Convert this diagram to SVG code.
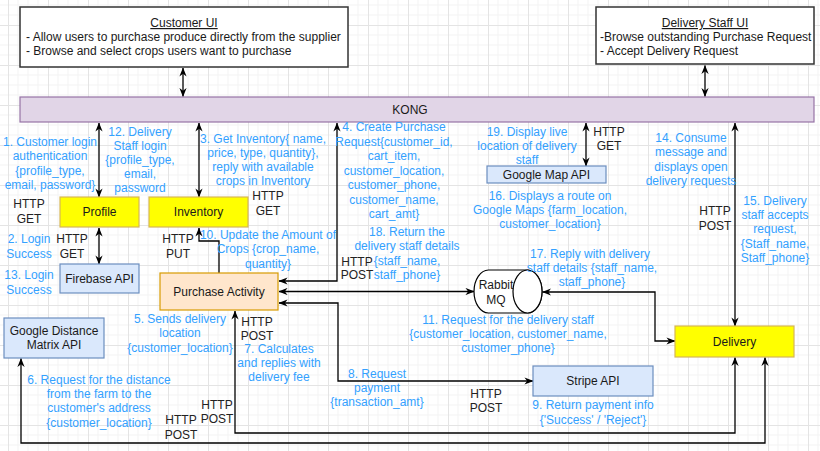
<svg xmlns="http://www.w3.org/2000/svg" width="820" height="451" viewBox="0 0 820 451">
<defs>
<pattern id="grid" width="40" height="40" patternUnits="userSpaceOnUse" x="8" y="25">
<path d="M0,10H40M0,20H40M0,30H40M10,0V40M20,0V40M30,0V40" fill="none" stroke="#f3f3f3" stroke-width="1"/>
<path d="M0,0.5H40M0.5,0V40" fill="none" stroke="#e4e4e4" stroke-width="1"/>
</pattern>
<marker id="ar" viewBox="0 0 10 8" refX="9.5" refY="4" markerWidth="9" markerHeight="7.2" markerUnits="userSpaceOnUse" orient="auto-start-reverse">
<path d="M0,0 L10,4 L0,8 L3,4 Z" fill="#000"/>
</marker>
<style>
text{font-family:"Liberation Sans",Arial,sans-serif;font-size:12px;}
.lb{fill:#33A1FF;text-anchor:middle;}
.hp{fill:#222;text-anchor:middle;}
.bt{fill:#1a1a1a;text-anchor:middle;}
.tl{fill:#1a1a1a;}
.c{fill:none;stroke:#000;stroke-width:1.3;}
.d{marker-start:url(#ar);marker-end:url(#ar);}
.s{marker-end:url(#ar);}
.ui{fill:#fff;stroke:#333;stroke-width:1.5;}
.yl{fill:#ffff00;stroke:#d6b656;stroke-width:1.2;}
.bl{fill:#dae8fc;stroke:#6c8ebf;stroke-width:1.2;}
</style>
</defs>
<rect width="820" height="451" fill="#fff"/>
<rect width="820" height="451" fill="url(#grid)"/>

<g id="connectors">
<path class="c d" d="M183,68 V96.5"/>
<path class="c d" d="M705,65.5 V96.5"/>
<path class="c d" d="M99,123 V197"/>
<path class="c d" d="M199,123 V197"/>
<path class="c d" d="M99,228 V264"/>
<path class="c d" d="M586,123 V166"/>
<path class="c d" d="M735,123 V326"/>
<path class="c s" d="M219,273 V241 H199 V228"/>
<path class="c d" d="M279,281 H337 V123"/>
<path class="c d" d="M279,291.5 H474"/>
<path class="c d" d="M279,303 H338 V381 H533"/>
<path class="c d" d="M542.5,292 H655 V341 H675"/>
<path class="c d" d="M235,311 V433 H735 V357.5"/>
<path class="c d" d="M21,358.5 V443 H765 V357.5"/>
</g>

<g id="customer-ui">
<rect class="ui" x="20" y="7" width="328" height="60"/>
<text class="bt" x="184" y="27" text-decoration="underline">Customer UI</text>
<text class="tl" x="26" y="40.5">- Allow users to purchase produce directly from the supplier</text>
<text class="tl" x="26" y="55">- Browse and select crops users want to purchase</text>
</g>

<g id="delivery-staff-ui">
<rect class="ui" x="596" y="7" width="218" height="57"/>
<text class="bt" x="705" y="27" text-decoration="underline">Delivery Staff UI</text>
<text class="tl" x="600" y="40.5">-Browse outstanding Purchase Request</text>
<text class="tl" x="600" y="55">- Accept Delivery Request</text>
</g>

<g id="kong">
<rect x="20" y="97" width="794" height="25" fill="#e1d5e7" stroke="#9673a6" stroke-width="1.2"/>
<text class="bt" x="410" y="114">KONG</text>
</g>

<g id="profile">
<rect class="yl" x="60" y="197" width="79" height="30"/>
<text class="bt" x="99.5" y="216">Profile</text>
</g>

<g id="inventory">
<rect class="yl" x="149" y="197" width="99" height="30"/>
<text class="bt" x="198.5" y="216">Inventory</text>
</g>

<g id="firebase-api">
<rect class="bl" x="60" y="264" width="79" height="29"/>
<text class="bt" x="99.5" y="282.5">Firebase API</text>
</g>

<g id="google-map-api">
<rect class="bl" x="487" y="166" width="119" height="17"/>
<text class="bt" x="546.5" y="179">Google Map API</text>
</g>

<g id="purchase-activity">
<rect x="160" y="273" width="118" height="37" fill="#ffe6cc" stroke="#d79b00" stroke-width="1.2"/>
<text class="bt" x="219" y="295.5">Purchase Activity</text>
</g>

<g id="rabbitmq">
<path d="M488.5,270 H527.5 A14.5,21.5 0 0 1 527.5,313 H488.5 A14.5,21.5 0 0 1 488.5,270 Z" fill="#fff" stroke="#000" stroke-width="1.2"/>
<ellipse cx="527.5" cy="291.5" rx="14.5" ry="21.5" fill="#fff" stroke="#000" stroke-width="1.2"/>
<text class="bt" x="496" y="289">Rabbit</text>
<text class="bt" x="496" y="304">MQ</text>
</g>

<g id="google-distance-matrix-api">
<rect class="bl" x="4" y="318" width="100" height="40"/>
<text class="bt" x="54" y="335">Google Distance</text>
<text class="bt" x="54" y="349">Matrix API</text>
</g>

<g id="stripe-api">
<rect class="bl" x="533" y="366" width="120" height="30"/>
<text class="bt" x="593" y="385">Stripe API</text>
</g>

<g id="delivery">
<rect class="yl" x="675" y="326" width="119" height="31"/>
<text class="bt" x="734.5" y="345.5">Delivery</text>
</g>

<g id="labels">
<text class="lb" x="50" y="146">1. Customer login</text>
<text class="lb" x="50" y="160">authentication</text>
<text class="lb" x="50" y="174.5">{profile_type,</text>
<text class="lb" x="50" y="188.5">email, password}</text>
<text class="hp" x="29" y="208">HTTP</text>
<text class="hp" x="29" y="222.5">GET</text>

<text class="lb" x="140" y="136">12.  Delivery</text>
<text class="lb" x="140" y="150">Staff login</text>
<text class="lb" x="140" y="164">{profile_type,</text>
<text class="lb" x="140" y="178">email,</text>
<text class="lb" x="140" y="192">password</text>

<text class="lb" x="29" y="243">2. Login</text>
<text class="lb" x="29" y="258">Success</text>
<text class="hp" x="72" y="243">HTTP</text>
<text class="hp" x="72" y="258">GET</text>
<text class="lb" x="29" y="279">13. Login</text>
<text class="lb" x="29" y="294">Success</text>

<text class="lb" x="263" y="143">3. Get Inventory{ name,</text>
<text class="lb" x="263" y="157">price, type, quantity},</text>
<text class="lb" x="263" y="171">reply with available</text>
<text class="lb" x="263" y="185">crops in Inventory</text>
<text class="hp" x="268" y="200">HTTP</text>
<text class="hp" x="268" y="215">GET</text>

<text class="lb" x="268" y="239">10. Update the Amount of</text>
<text class="lb" x="268" y="253">Crops {crop_name,</text>
<text class="lb" x="268" y="268">quantity}</text>
<text class="hp" x="178" y="243">HTTP</text>
<text class="hp" x="178" y="258">PUT</text>

<text class="lb" x="394" y="131">4. Create Purchase</text>
<text class="lb" x="394" y="145.5">Request{customer_id,</text>
<text class="lb" x="394" y="160">cart_item,</text>
<text class="lb" x="394" y="174.5">customer_location,</text>
<text class="lb" x="394" y="189">customer_phone,</text>
<text class="lb" x="394" y="203.5">customer_name,</text>
<text class="lb" x="394" y="218">cart_amt}</text>

<text class="lb" x="407" y="236">18. Return the</text>
<text class="lb" x="407" y="250">delivery staff details</text>
<text class="lb" x="407" y="265">{staff_name,</text>
<text class="lb" x="407" y="278.5">staff_phone}</text>
<text class="hp" x="357" y="266">HTTP</text>
<text class="hp" x="357" y="279">POST</text>

<text class="lb" x="527" y="136">19. Display live</text>
<text class="lb" x="527" y="150">location of delivery</text>
<text class="lb" x="527" y="164">staff</text>
<text class="hp" x="609" y="136">HTTP</text>
<text class="hp" x="609" y="150">GET</text>

<text class="lb" x="550" y="200">16. Displays a route on</text>
<text class="lb" x="550" y="214">Google Maps {farm_location,</text>
<text class="lb" x="550" y="228">customer_location}</text>

<text class="lb" x="691" y="142">14. Consume</text>
<text class="lb" x="691" y="156">message and</text>
<text class="lb" x="691" y="171">displays open</text>
<text class="lb" x="691" y="185">delivery requests</text>
<text class="hp" x="715" y="215">HTTP</text>
<text class="hp" x="715" y="230">POST</text>

<text class="lb" x="775" y="205">15. Delivery</text>
<text class="lb" x="775" y="219">staff accepts</text>
<text class="lb" x="775" y="233">request,</text>
<text class="lb" x="775" y="248">{Staff_name,</text>
<text class="lb" x="775" y="262">Staff_phone}</text>

<text class="lb" x="590" y="258">17. Reply with delivery</text>
<text class="lb" x="592" y="272">staff details {staff_name,</text>
<text class="lb" x="592" y="286">staff_phone}</text>

<text class="lb" x="508" y="324">11. Request for the delivery staff</text>
<text class="lb" x="508" y="338">{customer_location, customer_name,</text>
<text class="lb" x="508" y="352">customer_phone}</text>

<text class="lb" x="180" y="323">5. Sends delivery</text>
<text class="lb" x="180" y="337">location</text>
<text class="lb" x="180" y="352">{customer_location}</text>
<text class="hp" x="257" y="326">HTTP</text>
<text class="hp" x="257" y="340">POST</text>

<text class="lb" x="279" y="353">7. Calculates</text>
<text class="lb" x="279" y="367">and replies with</text>
<text class="lb" x="279" y="381">delivery fee</text>

<text class="lb" x="99" y="384">6. Request for the distance</text>
<text class="lb" x="99" y="398">from the farm to the</text>
<text class="lb" x="99" y="412">customer's address</text>
<text class="lb" x="99" y="427">{customer_location}</text>
<text class="hp" x="181" y="424">HTTP</text>
<text class="hp" x="181" y="439">POST</text>
<text class="hp" x="217" y="409">HTTP</text>
<text class="hp" x="217" y="423">POST</text>

<text class="lb" x="377" y="378">8. Request</text>
<text class="lb" x="377" y="392">payment</text>
<text class="lb" x="377" y="406">{transaction_amt}</text>
<text class="hp" x="486" y="398">HTTP</text>
<text class="hp" x="486" y="412">POST</text>

<text class="lb" x="593" y="409">9. Return payment info</text>
<text class="lb" x="593" y="424">{'Success' / 'Reject'}</text>
</g>
</svg>
